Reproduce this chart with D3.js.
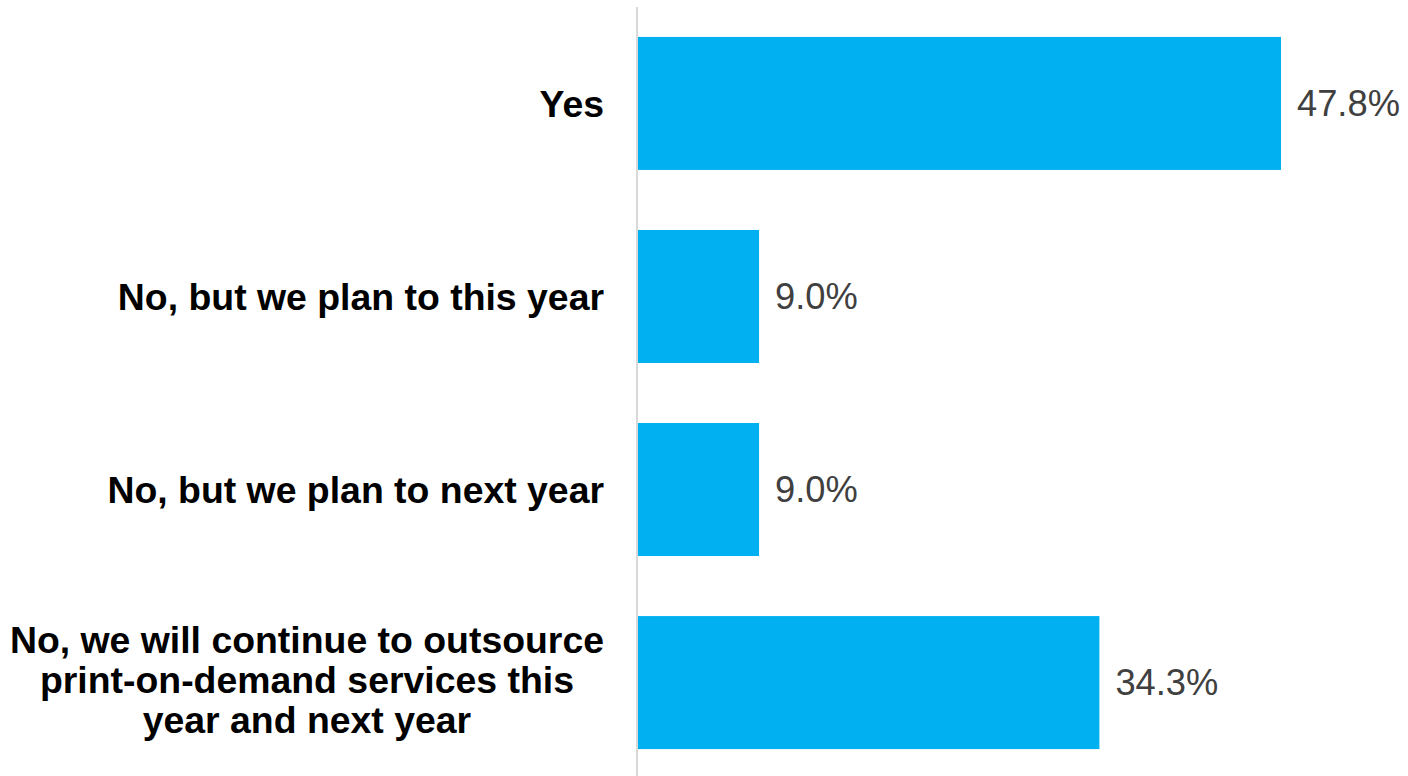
<!DOCTYPE html>
<html>
<head>
<meta charset="utf-8">
<script src="https://cdn.jsdelivr.net/npm/d3@7/dist/d3.min.js"></script>
<style>
  html, body { margin: 0; padding: 0; background: #ffffff; }
  svg { display: block; }
</style>
</head>
<body>
<svg id="chart" width="1408" height="776"></svg>
<script>
// Survey answers (labels may span several lines, split on "\n")
const categories = [
  "Yes",
  "No, but we plan to this year",
  "No, but we plan to next year",
  "No, we will continue to outsource\nprint-on-demand services this\nyear and next year"
];
const values = [47.8, 9.0, 9.0, 34.3];
const valueLabels = ["47.8%", "9.0%", "9.0%", "34.3%"];

const W = 1408, H = 776;
const axisX = 637;
const svg = d3.select("#chart");

const x = d3.scaleLinear().domain([0, 47.8]).range([axisX + 1, 1281]);
const y = d3.scaleBand()
  .domain(categories)
  .range([7, 779])
  .paddingInner(0.311)
  .paddingOuter(0.155);

// Bars
svg.append("g").selectAll("rect")
  .data(values)
  .join("rect")
  .attr("x", x(0))
  .attr("y", (d, i) => y(categories[i]))
  .attr("width", d => x(d) - x(0))
  .attr("height", y.bandwidth())
  .attr("fill", "#00B0F0");

// Vertical category axis line
svg.append("line")
  .attr("x1", axisX).attr("x2", axisX)
  .attr("y1", 7).attr("y2", H)
  .attr("stroke", "#d9d9d9")
  .attr("stroke-width", 2);

// Value labels at bar ends
svg.append("g").selectAll("text")
  .data(values)
  .join("text")
  .attr("x", d => x(d) + 16)
  .attr("y", (d, i) => y(categories[i]) + y.bandwidth() / 2)
  .attr("dy", "0.35em")
  .attr("font-family", "Liberation Sans, Arial, sans-serif")
  .attr("font-size", 36.3)
  .attr("fill", "#404040")
  .text((d, i) => valueLabels[i]);

// Category labels, right-aligned block, lines centred within the block
const labelRight = 604;
const lineH = 40;
const labelG = svg.append("g")
  .attr("font-family", "Liberation Sans, Arial, sans-serif")
  .attr("font-size", 37.4)
  .attr("font-weight", "bold")
  .attr("fill", "#000000");

categories.forEach(cat => {
  const lines = cat.split("\n");
  const cy = y(cat) + y.bandwidth() / 2 - (lines.length > 1 ? 3 : 0);
  const t = labelG.append("text").attr("text-anchor", "middle");
  lines.forEach((ln, j) => {
    t.append("tspan")
      .attr("x", 0)
      .attr("y", cy + (j - (lines.length - 1) / 2) * lineH)
      .attr("dy", "0.35em")
      .text(ln);
  });
  let maxW = 0;
  t.selectAll("tspan").each(function () {
    maxW = Math.max(maxW, this.getComputedTextLength());
  });
  t.selectAll("tspan").attr("x", labelRight - maxW / 2);
});
</script>
</body>
</html>
